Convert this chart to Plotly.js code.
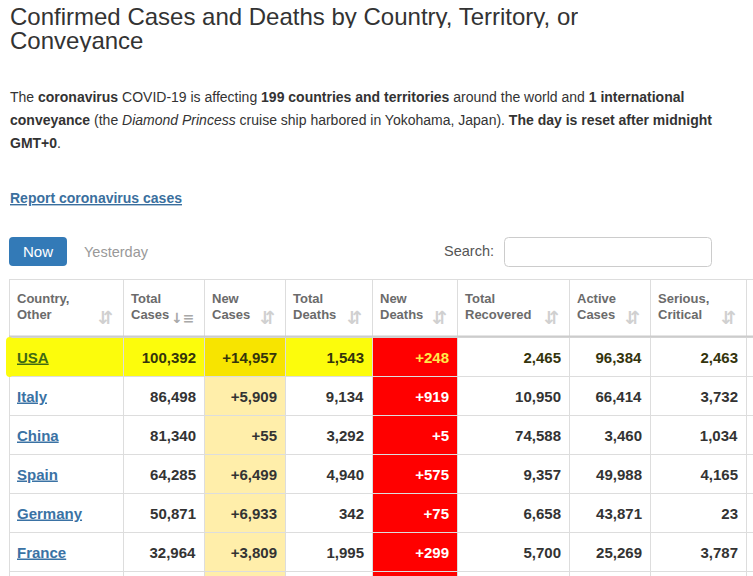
<!DOCTYPE html>
<html><head><meta charset="utf-8">
<script src="https://cdn.plot.ly/plotly-3.0.1.min.js"></script>
<style>html,body{margin:0;padding:0;background:#fff}#chart{width:753px;height:576px}</style>
</head><body><div id="chart"></div>
<script>
// ---- data ----
const countries = ["USA", "Italy", "China", "Spain", "Germany", "France"];
const totalCases = [100392, 86498, 81340, 64285, 50871, 32964];
const newCases = [14957, 5909, 55, 6499, 6933, 3809];
const totalDeaths = [1543, 9134, 3292, 4940, 342, 1995];
const newDeaths = [248, 919, 5, 575, 75, 299];
const totalRecovered = [2465, 10950, 74588, 9357, 6658, 5700];
const activeCases = [96384, 66414, 3460, 49988, 43871, 25269];
const seriousCritical = [2463, 3732, 1034, 4165, 23, 3787];
const headerLabels = [["Country,", "Other"], ["Total", "Cases"], ["New", "Cases"], ["Total", "Deaths"],
  ["New", "Deaths"], ["Total", "Recovered"], ["Active", "Cases"], ["Serious,", "Critical"]];
const highlighted = "USA";

// ---- helpers ----
const W = 753, H = 576;
const X = x => x / W, Y = y => 1 - y / H;
const fmt = n => n.toLocaleString('en-US');
const plus = n => '+' + fmt(n);
const FONT = 'Liberation Sans, Arial, Helvetica, sans-serif';

const nRows = countries.length;
const colPx = [114, 81, 81, 87, 85, 112, 81, 96, 7];
const colLeft = [9]; colPx.forEach((w, i) => colLeft.push(colLeft[i] + w));

const isHi = countries.map(c => c === highlighted);
const blank = n => Array(n).fill('');

const textCols = [
  countries.map(c => '<b><u>' + c + '</u></b>'),
  totalCases.map(v => '<b>' + fmt(v) + '</b>'),
  newCases.map(v => '<b>' + plus(v) + '</b>'),
  totalDeaths.map(v => '<b>' + fmt(v) + '</b>'),
  newDeaths.map(v => '<b>' + plus(v) + '</b>'),
  totalRecovered.map(v => '<b>' + fmt(v) + '</b>'),
  activeCases.map(v => '<b>' + fmt(v) + '</b>'),
  seriousCritical.map(v => '<b>' + fmt(v) + '</b>'),
  blank(nRows)
];

const HI = '#fcfc0c', HI_NEW = '#f7e400', NEWC = '#ffeeaa', RED = '#ff0000';
// one extra (partially visible) row below the six data rows
const fillCols = textCols.map((col, ci) => blank(nRows + 1).map((_, ri) => {
  const hi = ri < nRows && isHi[ri];
  if (ci === 4) return RED;
  if (ci === 2) return hi ? HI_NEW : NEWC;
  if (hi && ci < 4) return HI;
  return '#ffffff';
}));
const fontCols = textCols.map((col, ci) => col.map((_, ri) => {
  const hi = isHi[ri];
  if (ci === 4) return hi ? '#ffe94a' : '#ffffff';
  if (ci === 0) return hi ? '#3f6a14' : '#3a72a4';
  return hi ? '#34340c' : '#333333';
}));
const CLEAR = 'rgba(0,0,0,0)';

// grid + fills
const gridTrace = {
  type: 'table',
  domain: {x: [X(9), 1], y: [0, Y(279)]},
  columnwidth: colPx,
  header: {
    values: blank(colPx.length),
    height: 58,
    fill: {color: '#ffffff'},
    line: {color: '#dddddd', width: 1},
    font: {family: FONT, size: 13, color: '#6b6b6b'}
  },
  cells: {
    values: textCols.map(() => blank(nRows + 1)),
    height: 39,
    fill: {color: fillCols},
    line: {color: '#dddddd', width: 1},
    font: {family: FONT, size: 15, color: '#333333'}
  }
};
// texts (same table, nudged down to sit vertically centred in the cells)
const textTrace = {
  type: 'table',
  domain: {x: [X(9), 1], y: [0, Y(282.5)]},
  columnwidth: colPx,
  header: {
    values: headerLabels.map(h => '<b>' + h[0] + '</b><br><b>' + h[1] + '</b>').concat(['']),
    align: 'left',
    height: 58,
    fill: {color: CLEAR},
    line: {color: CLEAR, width: 0},
    font: {family: FONT, size: 13, color: '#6b6b6b'}
  },
  cells: {
    values: textCols,
    align: ['left', 'right', 'right', 'right', 'right', 'right', 'right', 'right', 'right'],
    height: 39,
    fill: {color: CLEAR},
    line: {color: CLEAR, width: 0},
    font: {family: FONT, size: 15, color: fontCols}
  }
};

function rr(x0, y0, x1, y1, r) {
  const p = (x, y) => X(x) + ',' + Y(y);
  return 'M' + p(x0 + r, y0) + ' L' + p(x1 - r, y0) + ' Q' + p(x1, y0) + ' ' + p(x1, y0 + r) +
    ' L' + p(x1, y1 - r) + ' Q' + p(x1, y1) + ' ' + p(x1 - r, y1) +
    ' L' + p(x0 + r, y1) + ' Q' + p(x0, y1) + ' ' + p(x0, y1 - r) +
    ' L' + p(x0, y0 + r) + ' Q' + p(x0, y0) + ' ' + p(x0 + r, y0) + ' Z';
}

const shapes = [
  {type: 'path', xref: 'paper', yref: 'paper', path: rr(9, 237, 67, 266, 4), fillcolor: '#337ab7', line: {width: 0}},
  {type: 'path', xref: 'paper', yref: 'paper', path: rr(504.5, 237.5, 711.5, 266.5, 4), fillcolor: 'rgba(0,0,0,0)', line: {color: '#cccccc', width: 1}},
  {type: 'line', xref: 'paper', yref: 'paper', x0: X(9), x1: 1, y0: Y(336.5), y1: Y(336.5), line: {color: '#cccccc', width: 2}},
  {type: 'path', xref: 'paper', yref: 'paper', path: rr(6, 337, 13, 377, 4), fillcolor: HI, line: {width: 0}}
];

const ann = (x, y, text, size, color, extra) => Object.assign({
  xref: 'paper', yref: 'paper', x: X(x), y: Y(y), xanchor: 'left', yanchor: 'middle',
  text: text, showarrow: false, align: 'left', font: {family: FONT, size: size, color: color}
}, extra || {});

const annotations = [
  ann(8, 16, 'Confirmed Cases and Deaths by Country, Territory, or', 24, '#333333', {height: 24}),
  ann(8, 40, 'Conveyance', 24, '#333333', {height: 24}),
  ann(8, 96.8, 'The <b>coronavirus</b> COVID-19 is affecting <b>199 countries and territories</b> around the world and <b>1 international</b>', 14, '#333333'),
  ann(8, 119.8, '<b>conveyance</b> (the <i>Diamond Princess</i> cruise ship harbored in Yokohama, Japan). <b>The day is reset after midnight</b>', 14, '#333333'),
  ann(8, 142.8, '<b>GMT+0</b>.', 14, '#333333'),
  ann(8, 197.8, '<b><u>Report coronavirus cases</u></b>', 14, '#3a6f9e'),
  ann(38, 251.5, 'Now', 15, '#ffffff', {xanchor: 'center'}),
  ann(82, 251.5, 'Yesterday', 14.5, '#999999'),
  ann(496, 251, 'Search:', 14.5, '#555555', {xanchor: 'right'})
];
// sort icons in header
for (let i = 0; i < headerLabels.length; i++) {
  const sorted = i === 1;
  annotations.push({
    xref: 'paper', yref: 'paper', x: X(colLeft[i + 1] - 8), y: Y(317.5), xanchor: 'right', yanchor: 'middle',
    text: sorted ? '<b>↓≡</b>' : '<b>⇵</b>', showarrow: false,
    font: {family: 'DejaVu Sans', size: sorted ? 14 : 18, color: sorted ? '#a8a8a8' : '#d0d0d0'}
  });
}

Plotly.newPlot('chart', [gridTrace, textTrace], {
  width: W, height: H,
  margin: {l: 0, r: 0, t: 0, b: 0},
  paper_bgcolor: '#ffffff',
  showlegend: false,
  shapes: shapes,
  annotations: annotations
}, {displayModeBar: false, staticPlot: true});
</script>
</body></html>
